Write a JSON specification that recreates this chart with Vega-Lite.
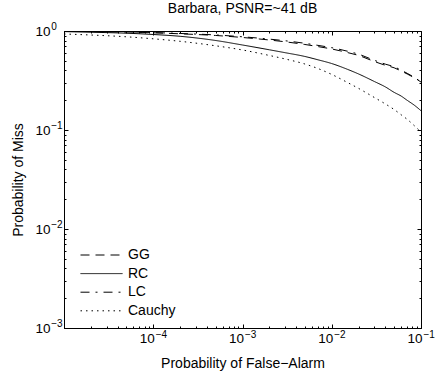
{
  "$schema": "https://vega.github.io/schema/vega-lite/v6.json",
  "width": 357,
  "height": 297,
  "autosize": {"type": "none"},
  "padding": {"left": 64, "top": 31, "right": 14, "bottom": 43},
  "background": "white",
  "config": {
    "font": "Liberation Sans",
    "view": {"stroke": "black", "strokeWidth": 1},
    "axis": {
      "grid": false,
      "domainColor": "black",
      "tickColor": "black",
      "labelColor": "black",
      "titleColor": "black",
      "labelFont": "Liberation Sans",
      "titleFont": "Liberation Sans",
      "labelFontSize": 13.5,
      "titleFontSize": 14,
      "titleFontWeight": "normal",
      "labelOverlap": false,
      "labelFlush": false
    }
  },
  "title": {"text": "Barbara, PSNR=~41 dB", "fontSize": 14, "fontWeight": "normal", "font": "Liberation Sans", "color": "black", "offset": 5},
  "data": {
    "values": [
      {"method": "GG", "pfa": 1e-5, "pm": 0.995},
      {"method": "GG", "pfa": 2e-5, "pm": 0.988},
      {"method": "GG", "pfa": 5e-5, "pm": 0.977},
      {"method": "GG", "pfa": 1e-4, "pm": 0.959},
      {"method": "GG", "pfa": 2e-4, "pm": 0.937},
      {"method": "GG", "pfa": 5e-4, "pm": 0.901},
      {"method": "GG", "pfa": 1e-3, "pm": 0.860},
      {"method": "GG", "pfa": 2e-3, "pm": 0.811},
      {"method": "GG", "pfa": 3e-3, "pm": 0.778},
      {"method": "GG", "pfa": 5e-3, "pm": 0.731},
      {"method": "GG", "pfa": 7e-3, "pm": 0.696},
      {"method": "GG", "pfa": 1e-2, "pm": 0.658},
      {"method": "GG", "pfa": 1.5e-2, "pm": 0.606},
      {"method": "GG", "pfa": 2e-2, "pm": 0.566},
      {"method": "GG", "pfa": 3e-2, "pm": 0.492},
      {"method": "GG", "pfa": 4e-2, "pm": 0.450},
      {"method": "GG", "pfa": 5e-2, "pm": 0.425},
      {"method": "GG", "pfa": 6e-2, "pm": 0.394},
      {"method": "GG", "pfa": 7e-2, "pm": 0.368},
      {"method": "GG", "pfa": 8.5e-2, "pm": 0.335},
      {"method": "GG", "pfa": 1e-1, "pm": 0.305},
      {"method": "RC", "pfa": 1e-5, "pm": 0.986},
      {"method": "RC", "pfa": 2e-5, "pm": 0.972},
      {"method": "RC", "pfa": 5e-5, "pm": 0.950},
      {"method": "RC", "pfa": 1e-4, "pm": 0.922},
      {"method": "RC", "pfa": 2e-4, "pm": 0.884},
      {"method": "RC", "pfa": 5e-4, "pm": 0.802},
      {"method": "RC", "pfa": 1e-3, "pm": 0.722},
      {"method": "RC", "pfa": 2e-3, "pm": 0.646},
      {"method": "RC", "pfa": 3e-3, "pm": 0.604},
      {"method": "RC", "pfa": 5e-3, "pm": 0.553},
      {"method": "RC", "pfa": 7e-3, "pm": 0.512},
      {"method": "RC", "pfa": 1e-2, "pm": 0.469},
      {"method": "RC", "pfa": 1.5e-2, "pm": 0.410},
      {"method": "RC", "pfa": 2e-2, "pm": 0.368},
      {"method": "RC", "pfa": 3e-2, "pm": 0.309},
      {"method": "RC", "pfa": 4e-2, "pm": 0.272},
      {"method": "RC", "pfa": 5e-2, "pm": 0.240},
      {"method": "RC", "pfa": 6e-2, "pm": 0.220},
      {"method": "RC", "pfa": 7e-2, "pm": 0.1995},
      {"method": "RC", "pfa": 8.5e-2, "pm": 0.1768},
      {"method": "RC", "pfa": 1e-1, "pm": 0.1566},
      {"method": "LC", "pfa": 1e-5, "pm": 0.996},
      {"method": "LC", "pfa": 2e-5, "pm": 0.990},
      {"method": "LC", "pfa": 5e-5, "pm": 0.980},
      {"method": "LC", "pfa": 1e-4, "pm": 0.964},
      {"method": "LC", "pfa": 2e-4, "pm": 0.944},
      {"method": "LC", "pfa": 5e-4, "pm": 0.912},
      {"method": "LC", "pfa": 1e-3, "pm": 0.874},
      {"method": "LC", "pfa": 2e-3, "pm": 0.828},
      {"method": "LC", "pfa": 3e-3, "pm": 0.797},
      {"method": "LC", "pfa": 5e-3, "pm": 0.751},
      {"method": "LC", "pfa": 7e-3, "pm": 0.716},
      {"method": "LC", "pfa": 1e-2, "pm": 0.678},
      {"method": "LC", "pfa": 1.5e-2, "pm": 0.625},
      {"method": "LC", "pfa": 2e-2, "pm": 0.583},
      {"method": "LC", "pfa": 3e-2, "pm": 0.506},
      {"method": "LC", "pfa": 4e-2, "pm": 0.462},
      {"method": "LC", "pfa": 5e-2, "pm": 0.435},
      {"method": "LC", "pfa": 6e-2, "pm": 0.402},
      {"method": "LC", "pfa": 7e-2, "pm": 0.374},
      {"method": "LC", "pfa": 8.5e-2, "pm": 0.338},
      {"method": "LC", "pfa": 1e-1, "pm": 0.306},
      {"method": "Cauchy", "pfa": 1e-5, "pm": 0.933},
      {"method": "Cauchy", "pfa": 2e-5, "pm": 0.911},
      {"method": "Cauchy", "pfa": 5e-5, "pm": 0.874},
      {"method": "Cauchy", "pfa": 1e-4, "pm": 0.834},
      {"method": "Cauchy", "pfa": 2e-4, "pm": 0.787},
      {"method": "Cauchy", "pfa": 5e-4, "pm": 0.709},
      {"method": "Cauchy", "pfa": 1e-3, "pm": 0.643},
      {"method": "Cauchy", "pfa": 2e-3, "pm": 0.566},
      {"method": "Cauchy", "pfa": 3e-3, "pm": 0.522},
      {"method": "Cauchy", "pfa": 5e-3, "pm": 0.464},
      {"method": "Cauchy", "pfa": 7e-3, "pm": 0.418},
      {"method": "Cauchy", "pfa": 1e-2, "pm": 0.364},
      {"method": "Cauchy", "pfa": 1.5e-2, "pm": 0.302},
      {"method": "Cauchy", "pfa": 2e-2, "pm": 0.263},
      {"method": "Cauchy", "pfa": 3e-2, "pm": 0.213},
      {"method": "Cauchy", "pfa": 4e-2, "pm": 0.183},
      {"method": "Cauchy", "pfa": 5e-2, "pm": 0.161},
      {"method": "Cauchy", "pfa": 6e-2, "pm": 0.1424},
      {"method": "Cauchy", "pfa": 7e-2, "pm": 0.1282},
      {"method": "Cauchy", "pfa": 8.5e-2, "pm": 0.1097},
      {"method": "Cauchy", "pfa": 1e-1, "pm": 0.0954}
    ]
  },
  "layer": [
    {
      "mark": {"type": "line", "color": "black", "strokeWidth": 1, "interpolate": "monotone", "clip": true},
      "encoding": {
        "x": {
          "field": "pfa", "type": "quantitative",
          "scale": {"type": "log", "domain": [1e-5, 0.1]},
          "axis": {
            "orient": "bottom",
            "values": [1e-5, 2e-5, 3e-5, 4e-5, 5e-5, 6e-5, 7e-5, 8e-5, 9e-5, 1e-4, 2e-4, 3e-4, 4e-4, 5e-4, 6e-4, 7e-4, 8e-4, 9e-4, 1e-3, 2e-3, 3e-3, 4e-3, 5e-3, 6e-3, 7e-3, 8e-3, 9e-3, 1e-2, 2e-2, 3e-2, 4e-2, 5e-2, 6e-2, 7e-2, 8e-2, 9e-2, 1e-1],
            "labelExpr": "indexof([0.0001, 0.001, 0.01, 0.1], datum.value) >= 0 ? '10' : ''",
            "tickSize": {"condition": {"test": "indexof([0.00001, 0.0001, 0.001, 0.01, 0.1], datum.value) >= 0", "value": -4}, "value": -2},
            "labelPadding": 7,
            "labelOffset": -6.5,
            "title": "Probability of False−Alarm",
            "titlePadding": 10
          }
        },
        "y": {
          "field": "pm", "type": "quantitative",
          "scale": {"type": "log", "domain": [0.001, 1]},
          "axis": {
            "orient": "left",
            "values": [0.001, 0.002, 0.003, 0.004, 0.005, 0.006, 0.007, 0.008, 0.009, 0.01, 0.02, 0.03, 0.04, 0.05, 0.06, 0.07, 0.08, 0.09, 0.1, 0.2, 0.3, 0.4, 0.5, 0.6, 0.7, 0.8, 0.9, 1],
            "labelExpr": "indexof([0.001, 0.01, 0.1, 1], datum.value) >= 0 ? '10' : ''",
            "tickSize": {"condition": {"test": "indexof([0.001, 0.01, 0.1, 1], datum.value) >= 0", "value": -4}, "value": -2},
            "labelPadding": 18,
            "title": "Probability of Miss",
            "titlePadding": 9
          }
        },
        "strokeDash": {
          "field": "method", "type": "nominal",
          "scale": {"domain": ["GG", "RC", "LC", "Cauchy"], "range": [[9, 6], [1, 0], [9, 6, 2, 6], [1.5, 4]]},
          "legend": {
            "orient": "none",
            "legendX": 16,
            "legendY": 216,
            "title": null,
            "padding": 0,
            "symbolType": "stroke",
            "symbolSize": 1764,
            "symbolStrokeColor": "black",
            "symbolStrokeWidth": 1,
            "clipHeight": 16,
            "labelFontSize": 14,
            "labelFont": "Liberation Sans",
            "labelColor": "black",
            "labelOffset": 5,
            "rowPadding": 2.6
          }
        }
      }
    },
    {
      "mark": {"type": "point", "opacity": 0},
      "encoding": {
        "x": {
          "field": "pfa", "type": "quantitative",
          "scale": {"type": "log", "domain": [1e-5, 0.1]},
          "axis": {
            "orient": "top",
            "values": [1e-5, 2e-5, 3e-5, 4e-5, 5e-5, 6e-5, 7e-5, 8e-5, 9e-5, 1e-4, 2e-4, 3e-4, 4e-4, 5e-4, 6e-4, 7e-4, 8e-4, 9e-4, 1e-3, 2e-3, 3e-3, 4e-3, 5e-3, 6e-3, 7e-3, 8e-3, 9e-3, 1e-2, 2e-2, 3e-2, 4e-2, 5e-2, 6e-2, 7e-2, 8e-2, 9e-2, 1e-1],
            "labels": false,
            "domain": false,
            "title": null,
            "tickSize": {"condition": {"test": "indexof([0.00001, 0.0001, 0.001, 0.01, 0.1], datum.value) >= 0", "value": -4}, "value": -2}
          }
        },
        "y": {
          "field": "pm", "type": "quantitative",
          "scale": {"type": "log", "domain": [0.001, 1]},
          "axis": {
            "orient": "right",
            "values": [0.001, 0.002, 0.003, 0.004, 0.005, 0.006, 0.007, 0.008, 0.009, 0.01, 0.02, 0.03, 0.04, 0.05, 0.06, 0.07, 0.08, 0.09, 0.1, 0.2, 0.3, 0.4, 0.5, 0.6, 0.7, 0.8, 0.9, 1],
            "labels": false,
            "domain": false,
            "title": null,
            "tickSize": {"condition": {"test": "indexof([0.001, 0.01, 0.1, 1], datum.value) >= 0", "value": -4}, "value": -2}
          }
        }
      }
    },
    {
      "mark": {"type": "point", "opacity": 0},
      "encoding": {
        "x": {
          "field": "pfa", "type": "quantitative",
          "scale": {"type": "log", "domain": [1e-5, 0.1]},
          "axis": {
            "orient": "bottom",
            "values": [1e-4, 1e-3, 1e-2, 1e-1],
            "labelExpr": "datum.value == 0.0001 ? '−4' : datum.value == 0.001 ? '−3' : datum.value == 0.01 ? '−2' : '−1'",
            "ticks": false,
            "tickSize": 0,
            "domain": false,
            "title": null,
            "labelFontSize": 10,
            "labelAlign": "left",
            "labelBaseline": "top",
            "labelOffset": 2,
            "labelPadding": 1
          }
        },
        "y": {
          "field": "pm", "type": "quantitative",
          "scale": {"type": "log", "domain": [0.001, 1]},
          "axis": {
            "orient": "left",
            "values": [0.001, 0.01, 0.1, 1],
            "labelExpr": "datum.value == 1 ? '0' : datum.value == 0.1 ? '−1' : datum.value == 0.01 ? '−2' : '−3'",
            "ticks": false,
            "tickSize": 0,
            "domain": false,
            "title": null,
            "labelFontSize": 10,
            "labelAlign": "left",
            "labelBaseline": "middle",
            "labelOffset": -5,
            "labelPadding": 13.3
          }
        }
      }
    }
  ],
  "resolve": {"axis": {"x": "independent", "y": "independent"}}
}
